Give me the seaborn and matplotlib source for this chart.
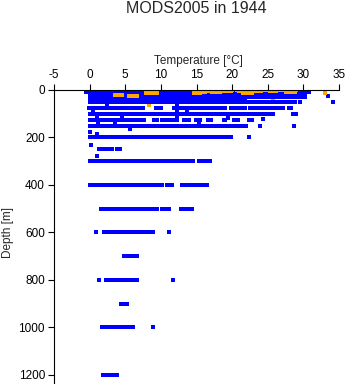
import matplotlib
matplotlib.use("Agg")
import matplotlib.pyplot as plt
import seaborn as sns
import pandas as pd

# Continuous runs of blue observations: depth [m], start and end temperature [°C]
blue_run_depth = [0, 10, 20, 30, 40,
                  50, 50,
                  75, 75, 75, 75, 75, 75, 75, 75, 75, 75, 75, 75, 75, 75, 75,
                  100, 100,
                  125, 125, 125, 125, 125, 125, 125, 125, 125, 125, 125, 125, 125, 125, 125, 125, 125,
                  150, 150,
                  200, 200, 200,
                  250, 250, 250, 250,
                  300, 300, 300, 300,
                  400, 400, 400, 400, 400,
                  500, 500, 500, 500,
                  600, 600, 600,
                  700,
                  800,
                  900,
                  1000,
                  1200]
blue_run_tmin = [-0.4, 0.0, 0.0, 0.0, 0.0,
                 0.0, 7.9,
                 -0.1, 9.3, 11.9, 12.8, 14.3, 15.7, 16.6, 18.6, 19.9, 20.8, 22.5, 26.2, 28.0, 12.6, 13.6,
                 0.0, 26.2,
                 0.1, 0.9, 2.0, 2.7, 4.3, 5.7, 7.1, 9.0, 10.1, 11.1, 11.8, 13.3, 14.9, 16.6, 18.8, 20.3, 22.3,
                 0.1, 20.6,
                 0.0, 18.3, 19.7,
                 1.3, 2.1, 2.7, 3.8,
                 0.1, 12.7, 14.0, 15.4,
                 0.1, 1.3, 10.9, 13.0, 14.9,
                 1.6, 10.2, 12.8, 13.6,
                 2.0, 2.6, 8.5,
                 4.8,
                 2.3,
                 4.4,
                 1.8,
                 1.9]
blue_run_tmax = [30.8, 30.8, 30.2, 30.2, 21.8,
                 7.7, 28.8,
                 7.5, 10.0, 12.4, 13.8, 15.0, 16.2, 18.4, 19.0, 20.6, 21.8, 26.0, 27.2, 28.3, 12.6, 13.6,
                 25.8, 26.2,
                 0.8, 1.4, 2.4, 4.3, 5.5, 6.8, 7.6, 9.4, 10.9, 11.8, 12.2, 14.0, 15.5, 17.1, 19.0, 20.8, 22.8,
                 20.5, 22.0,
                 18.0, 19.4, 19.9,
                 1.7, 2.4, 3.2, 4.2,
                 12.1, 13.5, 14.5, 16.9,
                 0.9, 10.1, 11.5, 14.5, 16.5,
                 9.4, 11.1, 13.2, 14.4,
                 2.3, 8.2, 8.9,
                 6.6,
                 6.6,
                 5.2,
                 6.1,
                 3.3]

# Isolated blue observations
blue_pt_depth = [10, 26, 50, 50, 63, 65, 85, 88, 90, 100, 100, 112, 115, 117, 120,
                 122, 140, 140, 140, 150, 150, 163, 175, 186, 200, 232, 278,
                 600, 600, 800, 800, 1000, 1200]
blue_pt_temp = [-0.5, 33.4, 29.5, 34.2, 2.4, 12.3, 0.5, 13.6, 12.3, 28.5, 28.9, 1.0, 4.6, 19.4, 12.3,
                24.3, 1.2, 3.6, 15.3, 23.9, 28.7, 5.6, 0.0, 1.0, 22.3, 0.2, 1.0,
                0.9, 11.1, 1.3, 11.7, 8.9, 3.8]

# Runs of orange (surface) observations
orange_run_depth = [22, 24, 12, 3, 8, 12, 0, 6, 10, 0, 5, 12, 0, 6, 0, 6, 2, 10]
orange_run_tmin = [3.5, 5.5, 7.9, 14.6, 15.0, 14.7, 16.6, 18.5, 17.2, 20.7, 21.0, 21.5,
                   22.5, 23.0, 25.0, 25.3, 26.7, 27.5]
orange_run_tmax = [4.5, 6.6, 9.5, 16.6, 16.2, 15.5, 20.0, 19.8, 18.3, 23.2, 23.9, 22.8,
                   24.6, 24.0, 26.0, 26.1, 29.0, 28.8]

# Isolated orange observations
orange_pt_depth = [5, 2, 2, 30, 50, 22, 47, 17, 5, 12, 63, 28]
orange_pt_temp = [0.0, 9.8, 11.0, 16.4, 19.6, 24.3, 25.7, 28.6, 33.1, 33.0, 8.4, 24.5]

x_ticks = [-5, 0, 5, 10, 15, 20, 25, 30, 35]
y_ticks = [0, 200, 400, 600, 800, 1000, 1200]

BLUE = "#0000ff"
ORANGE = "#ffa500"


def runs_frame(depth, tmin, tmax):
    rows = []
    for i, (d, a, b) in enumerate(zip(depth, tmin, tmax)):
        rows.append({"run": i, "temp": a, "depth": d})
        rows.append({"run": i, "temp": b, "depth": d})
    return pd.DataFrame(rows)


sns.set_style("white")
plt.rcParams["font.family"] = ["Liberation Sans", "DejaVu Sans"]
plt.rcParams["axes.unicode_minus"] = False

fig = plt.figure(figsize=(3.48, 3.84), dpi=100)
W, H = 348, 384
ax = fig.add_axes([54 / W, 0.0, (339 - 54) / W, (384 - 90) / H])

line_kw = dict(linewidth=1.6, solid_capstyle="projecting", antialiased=False, legend=False)
pt_kw = dict(marker="s", s=5, linewidth=0, antialiased=False, legend=False)

sns.lineplot(data=runs_frame(blue_run_depth, blue_run_tmin, blue_run_tmax),
             x="temp", y="depth", units="run", estimator=None, sort=False,
             color=BLUE, ax=ax, **line_kw)
sns.scatterplot(x=blue_pt_temp, y=blue_pt_depth, color=BLUE, ax=ax, **pt_kw)
sns.lineplot(data=runs_frame(orange_run_depth, orange_run_tmin, orange_run_tmax),
             x="temp", y="depth", units="run", estimator=None, sort=False,
             color=ORANGE, ax=ax, **line_kw)
sns.scatterplot(x=orange_pt_temp, y=orange_pt_depth, color=ORANGE, ax=ax, **pt_kw)

ax.set_xlim(-5, 35)
ax.set_ylim(1238, 0)
ax.set_xticks(x_ticks)
ax.set_yticks(y_ticks)
ax.set_xticklabels([str(v) for v in x_ticks])
ax.set_yticklabels([str(v) for v in y_ticks])
ax.xaxis.tick_top()
ax.set_xlabel("")
ax.set_ylabel("")
for side in ("right", "bottom"):
    ax.spines[side].set_visible(False)
for side in ("left", "top"):
    ax.spines[side].set_color("black")
    ax.spines[side].set_linewidth(0.8)
ax.tick_params(axis="both", which="major", direction="out", length=4, width=0.8,
               color="black", labelsize=8.5, labelcolor="black")
ax.tick_params(axis="x", pad=2.5, top=True, bottom=False)
ax.tick_params(axis="y", pad=2.5, left=True)

fig.text(196.5 / W, 1 - 13 / H, "MODS2005 in 1944", ha="center", va="baseline", fontsize=11.5)
fig.text(198 / W, 1 - 64 / H, "Temperature [°C]", ha="center", va="baseline", fontsize=8.5)
fig.text(7.5 / W, 1 - 233 / H, "Depth [m]", ha="center", va="center", rotation=90, fontsize=8.5)

fig.savefig("out.png", dpi=100)
